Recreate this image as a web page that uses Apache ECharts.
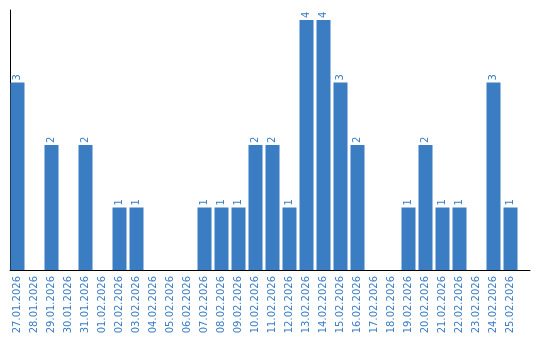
<!DOCTYPE html>
<html><head><meta charset="utf-8">
<script src="https://cdn.jsdelivr.net/npm/echarts@6/dist/echarts.min.js"></script>
<style>html,body{margin:0;padding:0;background:#fff}#c{width:540px;height:340px}</style>
</head><body><div id="c"></div>
<script>
const categories = ["27.01.2026","28.01.2026","29.01.2026","30.01.2026","31.01.2026","01.02.2026","02.02.2026","03.02.2026","04.02.2026","05.02.2026","06.02.2026","07.02.2026","08.02.2026","09.02.2026","10.02.2026","11.02.2026","12.02.2026","13.02.2026","14.02.2026","15.02.2026","16.02.2026","17.02.2026","18.02.2026","19.02.2026","20.02.2026","21.02.2026","22.02.2026","23.02.2026","24.02.2026","25.02.2026"];
const values = [3,0,2,0,2,0,1,1,0,0,0,1,1,1,2,2,1,4,4,3,2,0,0,1,2,1,1,0,3,1];
const blue = '#3a7dc3';
const chart = echarts.init(document.getElementById('c'), null, {renderer:'canvas'});
chart.setOption({
  animation:false,
  textStyle:{fontFamily:'DejaVu Sans'},
  grid:[
    {left:9, top:10, width:510, height:260},
    {left:10, top:10, right:10, height:260}
  ],
  xAxis:[
    {type:'category', gridIndex:0, data:categories, boundaryGap:true,
     axisLine:{show:false}, axisTick:{show:false},
     axisLabel:{rotate:90, interval:0, color:blue, fontSize:10, margin:6, fontFamily:'DejaVu Sans'}},
    {type:'value', gridIndex:1, min:0, max:1, axisLine:{show:true, onZero:false, lineStyle:{color:'#000', width:1}},
     axisTick:{show:false}, axisLabel:{show:false}, splitLine:{show:false}}
  ],
  yAxis:[
    {type:'value', gridIndex:0, min:0, max:4.16, axisLine:{show:false}, axisTick:{show:false}, axisLabel:{show:false}, splitLine:{show:false}},
    {type:'value', gridIndex:1, min:0, max:1, axisLine:{show:true, lineStyle:{color:'#000', width:1}}, axisTick:{show:false}, axisLabel:{show:false}, splitLine:{show:false}}
  ],
  series:[{
    type:'bar', xAxisIndex:0, yAxisIndex:0, data:values, barWidth:14,
    itemStyle:{color:blue},
    label:{show:true, position:'top', rotate:90, align:'left', verticalAlign:'middle', distance:2,
      color:blue, fontSize:10, fontFamily:'DejaVu Sans',
      formatter:p=>p.value>0?String(p.value):''}
  }]
});
</script></body></html>
